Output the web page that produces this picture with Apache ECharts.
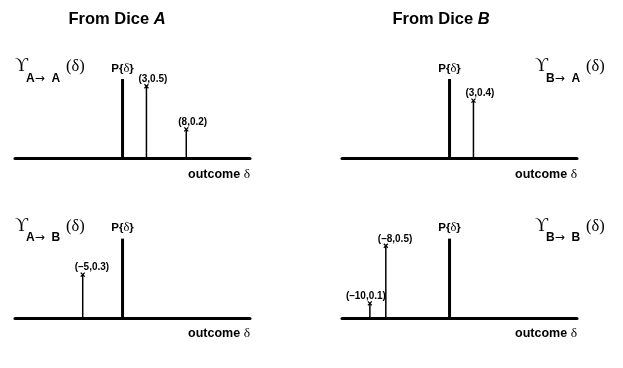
<!DOCTYPE html>
<html><head><meta charset="utf-8">
<script src="https://cdn.jsdelivr.net/npm/echarts@6/dist/echarts.min.js"></script>
<style>html,body{margin:0;padding:0;background:#fff}#c{width:623px;height:368px}</style>
</head><body><div id="c"></div>
<script>
// ---- data ----
const deltaAA = [3, 8];      const probAA = [0.5, 0.2];
const deltaAB = [-5];        const probAB = [0.3];
const deltaBA = [3];         const probBA = [0.4];
const deltaBB = [-10, -8];   const probBB = [0.1, 0.5];
const pDelta = [0];          const pHeight = [0.55];   // reference impulse P{δ}
const xRange = [-13.5, 16];
const yRange = [0, 0.6];
const titles = ['From Dice ', 'From Dice '];
const titleLetters = ['A', 'B'];
const subFrom = ['A', 'A', 'B', 'B'];
const subTo = ['A', 'B', 'A', 'B'];

const SANS = 'Liberation Sans, Arial, Helvetica, sans-serif';
const SERIF = 'Liberation Serif, DejaVu Serif, serif';
const fmt = v => String(v).replace('-', '\u2013');

const panels = [
  {left: 15, base: 158.2, xs: deltaAA, ys: probAA, k: 0, lab: 'left'},
  {left: 15, base: 317.8, xs: deltaAB, ys: probAB, k: 1, lab: 'left'},
  {left: 342, base: 158.2, xs: deltaBA, ys: probBA, k: 2, lab: 'right'},
  {left: 342, base: 317.8, xs: deltaBB, ys: probBB, k: 3, lab: 'right', dx: [-24, -8]}
];
const W = 235, PX = 144;
const H = PX * (yRange[1] - yRange[0]);

const grid = [], xAxis = [], yAxis = [], series = [], graphic = [];
panels.forEach((p, i) => {
  grid.push({left: p.left, width: W, top: p.base - H, height: H});
  xAxis.push({type: 'value', gridIndex: i, min: xRange[0], max: xRange[1],
    axisLine: {show: true, onZero: false, lineStyle: {color: '#000', width: 3}},
    axisTick: {show: false}, axisLabel: {show: false}, splitLine: {show: false}});
  yAxis.push({type: 'value', gridIndex: i, min: yRange[0], max: yRange[1], show: false,
    splitLine: {show: false}});
  series.push({type: 'custom', xAxisIndex: i, yAxisIndex: i, clip: false,
    data: pDelta.map((d, k) => [d, pHeight[k]]),
    renderItem: (params, api) => {
      const a = api.coord([api.value(0), 0]);
      const b = api.coord([api.value(0), api.value(1)]);
      return {type: 'group', children: [
        {type: 'line', shape: {x1: a[0], y1: a[1], x2: b[0], y2: b[1]},
          style: {stroke: '#000', lineWidth: 3}},
        {type: 'text', x: b[0], y: b[1] - 4, style: {
          text: 'P{{d|\u03b4}}', font: 'bold 11.5px ' + SANS, fill: '#000',
          align: 'center', verticalAlign: 'bottom',
          rich: {d: {fontFamily: SERIF, fontSize: 12.5, fontWeight: 'normal', fill: '#000'}}}}
      ]};
    }});
  series.push({type: 'custom', xAxisIndex: i, yAxisIndex: i, clip: false,
    data: p.xs.map((d, k) => [d, p.ys[k]]),
    renderItem: (params, api) => {
      const x = api.value(0), y = api.value(1);
      const a = api.coord([x, 0]);
      const b = api.coord([x, y]);
      const r = 2;
      const dx = p.dx ? p.dx[params.dataIndex] : -8;
      return {type: 'group', children: [
        {type: 'line', shape: {x1: a[0], y1: a[1], x2: b[0], y2: b[1]},
          style: {stroke: '#000', lineWidth: 1.5}},
        {type: 'line', shape: {x1: b[0] - r, y1: b[1] - r, x2: b[0] + r, y2: b[1] + r},
          style: {stroke: '#000', lineWidth: 1.3}},
        {type: 'line', shape: {x1: b[0] - r, y1: b[1] + r, x2: b[0] + r, y2: b[1] - r},
          style: {stroke: '#000', lineWidth: 1.3}},
        {type: 'text', x: b[0] + dx, y: b[1] - 2, style: {
          text: '(' + fmt(x) + ',' + y + ')', font: 'bold 10px ' + SANS, fill: '#000',
          align: 'left', verticalAlign: 'bottom'}}
      ]};
    }});
  graphic.push({type: 'text', x: p.left + W, y: p.base + 16, style: {
    text: 'outcome {d|\u03b4}', font: 'bold 12.5px ' + SANS, fill: '#000',
    align: 'right', verticalAlign: 'middle',
    rich: {d: {fontFamily: SERIF, fontSize: 13.5, fontWeight: 'normal', fill: '#000'}}}});
  const ux = p.lab === 'left' ? 15 : 535;
  const top = p.base - 158.2;
  graphic.push({type: 'text', x: ux, y: top + 66.5, style: {
    text: '\u03d2', font: '18px ' + SERIF, fill: '#000', align: 'left', verticalAlign: 'middle'}});
  graphic.push({type: 'text', x: ux + 11, y: top + 78.5, style: {
    text: subFrom[p.k] + '{a|\u2192}  ' + subTo[p.k], font: 'bold 12px ' + SANS, fill: '#000',
    align: 'left', verticalAlign: 'middle',
    rich: {a: {fontFamily: 'DejaVu Sans, sans-serif', fontSize: 12, fontWeight: 'normal', fill: '#000'}}}});
  graphic.push({type: 'text', x: ux + 51, y: top + 67, style: {
    text: '(\u03b4)', font: '16.5px ' + SERIF, fill: '#000', align: 'left', verticalAlign: 'middle'}});
});
[117, 441].forEach((cx, k) => {
  graphic.push({type: 'text', x: cx, y: 19, style: {
    text: titles[k] + '{i|' + titleLetters[k] + '}', font: 'bold 16.5px ' + SANS, fill: '#000',
    align: 'center', verticalAlign: 'middle',
    rich: {i: {fontStyle: 'italic', fontWeight: 'bold', fontSize: 16.5, fontFamily: SANS, fill: '#000'}}}});
});

const chart = echarts.init(document.getElementById('c'), null, {renderer: 'canvas'});
chart.setOption({animation: false, backgroundColor: '#fff', grid, xAxis, yAxis, series, graphic});
</script></body></html>
